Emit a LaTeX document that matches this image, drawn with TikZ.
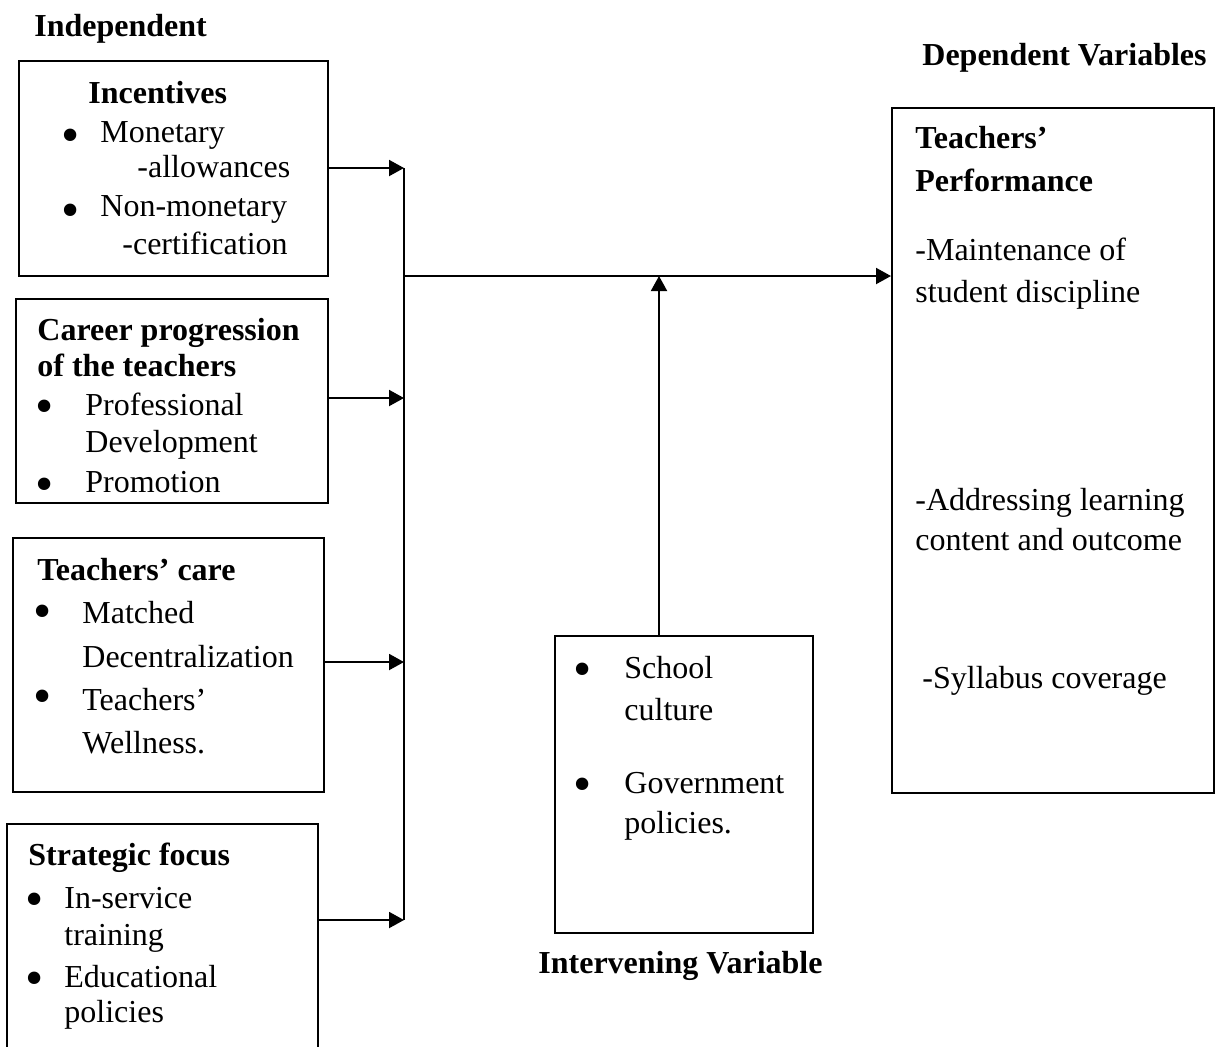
\documentclass[tikz,border=0pt]{standalone}
\usepackage{fontspec}
\setmainfont{Liberation Serif}
\usetikzlibrary{arrows.meta}
\begin{document}
\begin{tikzpicture}[x=0.5pt,y=-0.5pt,
  ln/.style={anchor=base west,inner sep=0pt,font=\fontsize{16}{19}\selectfont},
  hd/.style={anchor=base west,inner sep=0pt,font=\fontsize{16}{19}\selectfont\bfseries},
  bul/.style={anchor=center,inner sep=0pt,yshift=-3.5pt,font=\fontsize{26}{26}\selectfont},
  box/.style={draw,line width=1pt,inner sep=0pt},
  link/.style={line width=1pt},
  arr/.style={line width=1pt,-{Triangle[length=7.5pt,width=8pt]}}]
\useasboundingbox (0,0) rectangle (1219,1046);
\clip (0,0) rectangle (1219,1046);

% titles
\node[hd] (tind) at (34,36) {Independent};
\node[hd] (tdep) at (922,65) {Dependent Variables};
\node[hd] (tint) at (538,973) {Intervening Variable};

% boxes
\node[box,minimum width=154.5pt,minimum height=107.5pt] (b1) at (173.5,168.5) {};
\node[box,minimum width=156pt,minimum height=102pt] (b2) at (172,401) {};
\node[box,minimum width=155.5pt,minimum height=127pt] (b3) at (168.5,665) {};
\node[box,minimum width=155.5pt,minimum height=138pt] (b4) at (162.5,962) {};
\node[box,minimum width=129pt,minimum height=148.5pt] (ib) at (684,784.5) {};
\node[box,minimum width=161pt,minimum height=342.5pt] (rb) at (1053,450.5) {};

% box 1
\node[hd] (b1h) at (88,103) {Incentives};
\node[bul] (b1u1) at (71,134) {\textbullet};
\node[ln] (b1l1) at (100,142) {Monetary};
\node[ln] (b1l2) at (137,177) {-allowances};
\node[bul] (b1u2) at (71,209) {\textbullet};
\node[ln] (b1l3) at (100,216) {Non-monetary};
\node[ln] (b1l4) at (122,254) {-certification};

% box 2
\node[hd] (b2h1) at (37,340) {Career progression};
\node[hd] (b2h2) at (37,376) {of the teachers};
\node[bul] (b2u1) at (45,405) {\textbullet};
\node[ln] (b2l1) at (85,415) {Professional};
\node[ln] (b2l2) at (85,452) {Development};
\node[bul] (b2u2) at (45,483) {\textbullet};
\node[ln] (b2l3) at (85,492) {Promotion};

% box 3
\node[hd] (b3h) at (37,580) {Teachers’ care};
\node[bul] (b3u1) at (43,610) {\textbullet};
\node[ln] (b3l1) at (82,623) {Matched};
\node[ln] (b3l2) at (82,667) {Decentralization};
\node[bul] (b3u2) at (43,695) {\textbullet};
\node[ln] (b3l3) at (82,710) {Teachers’};
\node[ln] (b3l4) at (82,753) {Wellness.};

% box 4
\node[hd] (b4h) at (28,865) {Strategic focus};
\node[bul] (b4u1) at (35,898) {\textbullet};
\node[ln] (b4l1) at (64,908) {In-service};
\node[ln] (b4l2) at (64,945) {training};
\node[bul] (b4u2) at (35,977) {\textbullet};
\node[ln] (b4l3) at (64,987) {Educational};
\node[ln] (b4l4) at (64,1022) {policies};

% intervening box
\node[bul] (ibu1) at (583,668) {\textbullet};
\node[ln] (ibl1) at (624,678) {School};
\node[ln] (ibl2) at (624,720) {culture};
\node[bul] (ibu2) at (583,783) {\textbullet};
\node[ln] (ibl3) at (624,793) {Government};
\node[ln] (ibl4) at (624,833) {policies.};

% right box
\node[hd] (rbh1) at (915,148) {Teachers’};
\node[hd] (rbh2) at (915,191) {Performance};
\node[ln] (rbl1) at (915,260) {-Maintenance of};
\node[ln] (rbl2) at (915,302) {student discipline};
\node[ln] (rbl3) at (915,510) {-Addressing learning};
\node[ln] (rbl4) at (915,550) {content and outcome};
\node[ln] (rbl5) at (922,688) {-Syllabus coverage};

% junction coordinates
\coordinate (j1) at (404,168);
\coordinate (j2) at (404,398);
\coordinate (j3) at (404,662);
\coordinate (j4) at (404,920);
\coordinate (jm) at (404,276);
\coordinate (iv) at (659,276);

% connectors
\draw[arr] (b1.east |- j1) -- (j1);
\draw[arr] (b2.east |- j2) -- (j2);
\draw[arr] (b3.east |- j3) -- (j3);
\draw[arr] (b4.east |- j4) -- (j4);
\draw[link] (j1) -- (j4);
\draw[arr] (jm) -- (jm -| rb.west);
\draw[arr] (iv |- ib.north) -- (iv);
\end{tikzpicture}
\end{document}
